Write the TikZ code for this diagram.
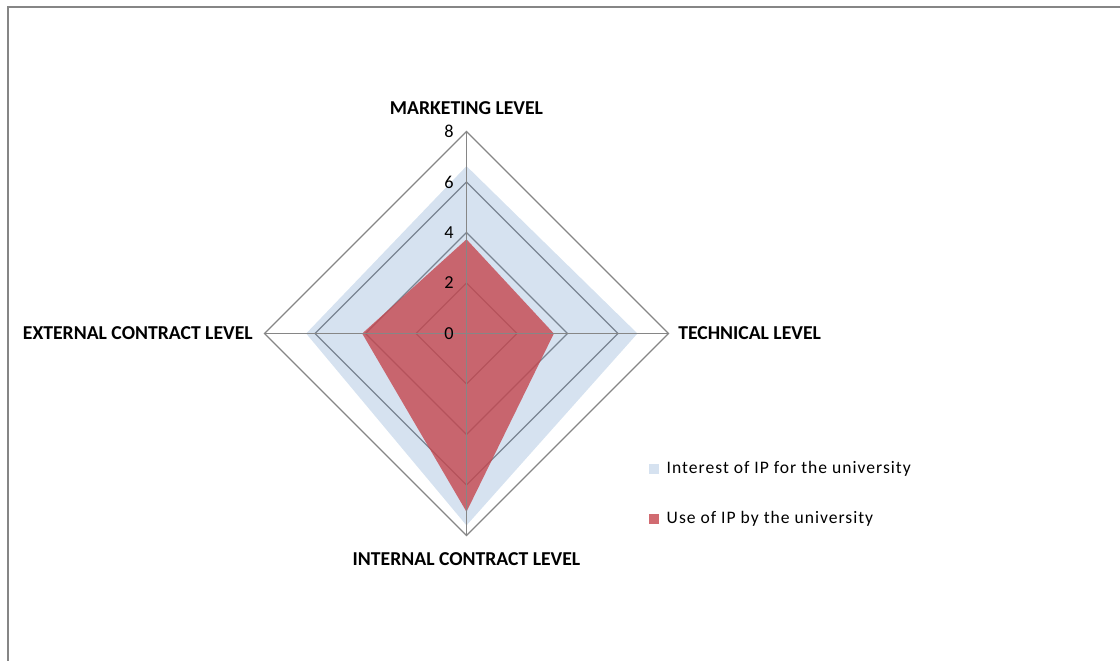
\documentclass[tikz,border=0pt]{standalone}
\usepackage{fontspec}
\setmainfont{Carlito}
\usetikzlibrary{positioning}

\definecolor{gridgray}{RGB}{134,134,134}
\definecolor{ipblue}{RGB}{79,129,189}
\definecolor{ipred}{RGB}{197,70,78}

\begin{document}
\begin{tikzpicture}[x=0.63125cm, y=0.63125cm,
        axislabel/.style={font=\bfseries\fontsize{14}{16}\selectfont, inner sep=0pt},
        ticklabel/.style={font=\fontsize{13}{15}\selectfont, anchor=east, inner sep=0pt, xshift=-9pt},
        gridline/.style={draw=gridgray, line width=0.9pt},
        interest/.style={fill=ipblue, fill opacity=0.23},
        use/.style={fill=ipred, fill opacity=0.8},
        legendkey/.style={minimum size=0.25cm, inner sep=0pt},
        legendtext/.style={font=\fontsize{12.5}{14}\selectfont\addfontfeature{LetterSpace=5.7}, inner sep=0pt}]
            \useasboundingbox (-18.475,-12.970) rectangle (25.881,13.208);
            \draw[gridgray, line width=1.4pt] (25.881,12.931) -- (-18.158,12.931) -- (-18.158,-12.970);
            \coordinate (O) at (0,0);
            \coordinate (mk) at (0,8);
            \coordinate (tc) at (8,0);
            \coordinate (ic) at (0,-8);
            \coordinate (ec) at (-8,0);
            \draw[gridline] (0,2) -- (2,0) -- (0,-2) -- (-2,0) -- cycle;
            \draw[gridline] (0,4) -- (4,0) -- (0,-4) -- (-4,0) -- cycle;
            \draw[gridline] (0,6) -- (6,0) -- (0,-6) -- (-6,0) -- cycle;
            \draw[gridline] (mk) -- (tc) -- (ic) -- (ec) -- cycle;
            \path[interest] (0,6.63) -- (6.77,0) -- (0,-7.6) -- (-6.35,0) -- cycle;
            \path[use] (0,3.73) -- (3.46,0) -- (0,-7.06) -- (-4.13,0) -- cycle;
            \draw[gridline] (O) -- (mk);
            \draw[gridline] (O) -- (tc);
            \draw[gridline] (O) -- (ic);
            \draw[gridline] (O) -- (ec);
            \node[ticklabel] (t0) at (0,0) {0};
            \node[ticklabel] (t2) at (0,2) {2};
            \node[ticklabel] (t4) at (0,4) {4};
            \node[ticklabel] (t6) at (0,6) {6};
            \node[ticklabel] (t8) at (0,8) {8};
            \node[axislabel] (marketing) at (0,8.92) {MARKETING LEVEL};
            \node[axislabel, anchor=west] (technical) at (8.376,0) {TECHNICAL LEVEL};
            \node[axislabel, anchor=east] (external) at (-8.455,0) {EXTERNAL CONTRACT LEVEL};
            \node[axislabel] (internal) at (0,-8.92) {INTERNAL CONTRACT LEVEL};
            \node[legendkey, interest] (keyinterest) at (7.43,-5.35) {};
            \node[legendkey, use] (keyuse) at (7.43,-7.33) {};
            \node[legendtext, right=0.28 of keyinterest] (txtinterest) {Interest of IP for the university};
            \node[legendtext, right=0.28 of keyuse] (txtuse) {Use of IP by the university};
        \end{tikzpicture}
\end{document}
